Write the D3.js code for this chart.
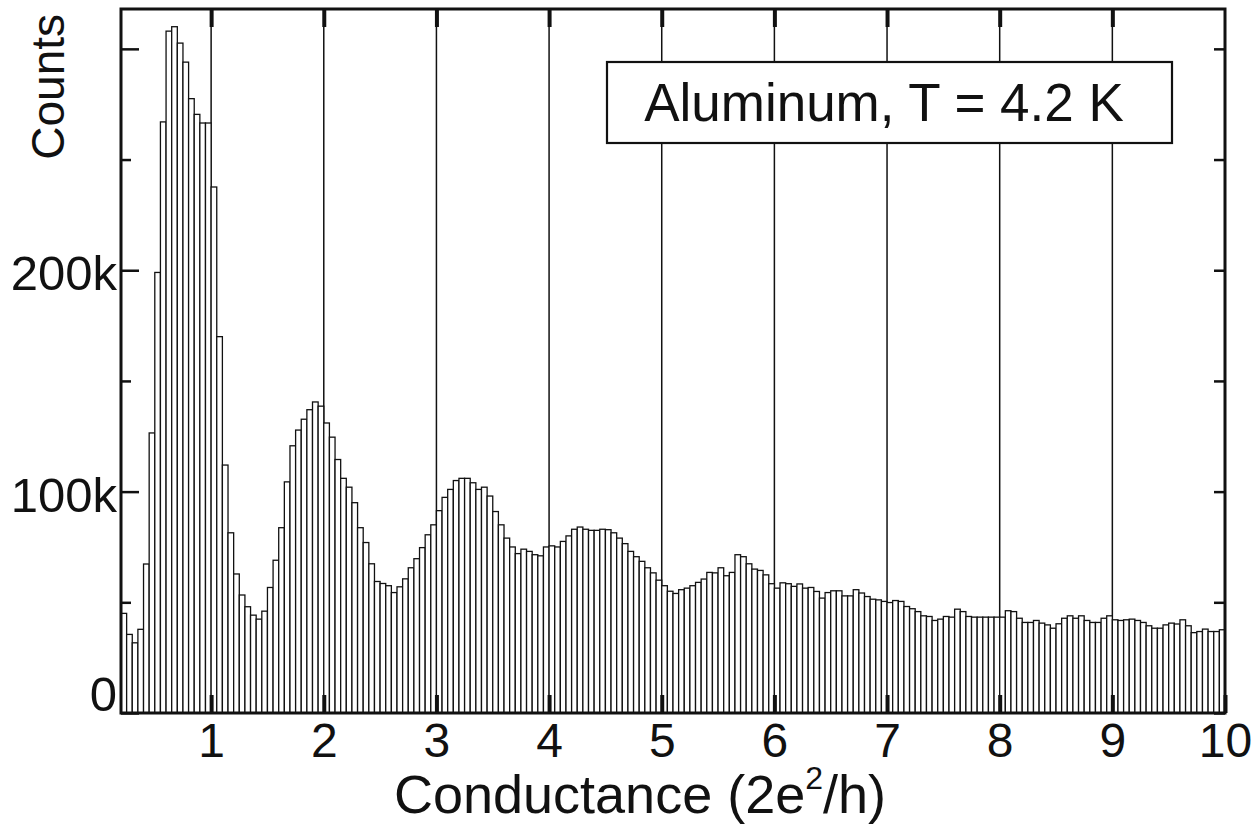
<!DOCTYPE html>
<html>
<head>
<meta charset="utf-8">
<script src="https://cdn.jsdelivr.net/npm/d3@7"></script>
<style>
  html, body { margin: 0; padding: 0; background: #fff; }
  svg { display: block; }
  text { font-family: "Liberation Sans", Arial, sans-serif; fill: #111; }
</style>
</head>
<body>
<svg id="chart" width="1258" height="837"></svg>
<script>
// Histogram bins: width 0.05 (2e^2/h), first bin starts at 0.20
const binStart = 0.20;
const binWidth = 0.05;
// Counts in thousands, grouped by conductance interval
const counts0 = [45, 35.5, 31.7, 37.8, 67.3, 126.5, 199, 267, 308, 310, 302.6, 294, 277.5, 270.4, 266.5, 266.5]; // 0.20–0.95
const counts1 = [237.6, 170, 112, 81.4, 62.8, 53.3, 48, 44.2, 42.4, 46, 56.7, 69, 83.7, 104.4, 120.7, 127.8, 132.7, 137, 140.5, 138.6];
const counts2 = [131, 124.6, 114.5, 106, 102, 95, 83.7, 77, 67.4, 59.4, 58.5, 57.5, 54.4, 57, 60.6, 65.6, 69.7, 74.7, 80.5, 85];
const counts3 = [91.4, 97.4, 101, 105, 106, 106, 104, 101, 102, 98, 91, 85, 79, 75, 72, 74, 73, 71.5, 71, 75];
const counts4 = [75.5, 75, 77.5, 80, 83, 84, 83, 82.5, 82.5, 83, 82.8, 81.4, 79, 76.5, 73, 70.6, 68.5, 65.6, 63.3, 60];
const counts5 = [57.5, 55, 54, 55.7, 56.4, 57.5, 59, 60.5, 63.5, 63.3, 65.6, 62, 63.5, 71.5, 70.6, 67.4, 65, 64.4, 62.4, 58.4];
const counts6 = [56.4, 58.8, 58.4, 57.2, 58.3, 56.4, 56.7, 54.9, 51.9, 54.4, 55.2, 55.2, 52.9, 52.9, 55.7, 54.2, 52.6, 51.4, 51.1, 50.4];
const counts7 = [49.9, 50.8, 50.4, 48.1, 47.1, 45.8, 43.9, 43.6, 41.8, 42.4, 43.6, 43.3, 46.9, 45.8, 43.6, 43.3, 43.3, 43.3, 43.3, 43.3];
const counts8 = [43.3, 46.2, 45.8, 42.8, 40.9, 40.9, 41.8, 40.6, 39.8, 38.3, 40.3, 42.8, 43.9, 42.8, 43.9, 41.8, 40.9, 40.9, 42.8, 43.9];
const counts9 = [42.1, 41.8, 42.1, 42.4, 41.8, 40.9, 39.4, 38.3, 38.3, 39.8, 40.6, 40.2, 42.1, 39.4, 36.3, 36.8, 37.9, 36.8, 36.8, 37.6];

const xTicks = [1, 2, 3, 4, 5, 6, 7, 8, 9, 10];
const gridValues = [1, 2, 3, 4, 5, 6, 7, 8, 9];
const yMajorTicks = [0, 100000, 200000, 300000];
const yMinorTicks = [50000, 150000, 250000];
const yTickLabels = { 0: "0", 100000: "100k", 200000: "200k" };
const xTitle = "Conductance (2e";
const yTitle = "Counts";
const legendText = "Aluminum, T = 4.2 K";

const allCounts = [].concat(counts0, counts1, counts2, counts3, counts4, counts5, counts6, counts7, counts8, counts9);
const bins = allCounts.map((c, i) => ({ x0: +(binStart + i * binWidth).toFixed(2), x1: +(binStart + (i + 1) * binWidth).toFixed(2), v: c * 1000 }));

const svg = d3.select("#chart");
const L = 121, R = 1225, T = 9, B = 713;

const x = d3.scaleLinear().domain([0.2, 10]).range([L, R]);
const y = d3.scaleLinear().domain([0, 318000]).range([B, T]);

svg.append("defs").append("clipPath").attr("id", "plotclip")
  .append("rect").attr("x", L).attr("y", T).attr("width", R - L).attr("height", B - T);

const plot = svg.append("g").attr("clip-path", "url(#plotclip)");

// gridlines
plot.selectAll("line.grid").data(gridValues).enter().append("line")
  .attr("class", "grid")
  .attr("x1", d => x(d)).attr("x2", d => x(d))
  .attr("y1", y.range()[1]).attr("y2", y.range()[0])
  .attr("stroke", "#111").attr("stroke-width", 1.5);

// bars
plot.selectAll("rect.bar").data(bins).enter().append("rect")
  .attr("class", "bar")
  .attr("x", d => x(d.x0))
  .attr("width", d => x(d.x1) - x(d.x0))
  .attr("y", d => y(d.v))
  .attr("height", d => y(0) - y(d.v))
  .attr("fill", "#fff")
  .attr("stroke", "#111")
  .attr("stroke-width", 1.3);

// bottom axis (inward ticks + labels)
const xAxis = d3.axisBottom(x).tickValues(xTicks).tickSize(-18).tickPadding(39).tickFormat(d3.format("d"));
const gx = svg.append("g").attr("transform", `translate(0,${B})`).call(xAxis);
gx.select(".domain").remove();
gx.selectAll(".tick line").attr("stroke", "#111").attr("stroke-width", 4);
gx.selectAll(".tick text").attr("font-size", 48).attr("dy", "0.1em").style("font-family", "Liberation Sans, Arial, sans-serif");

// top axis ticks
const gt = svg.append("g").attr("transform", `translate(0,${T})`)
  .call(d3.axisTop(x).tickValues(gridValues).tickSize(-18).tickFormat(""));
gt.select(".domain").remove();
gt.selectAll(".tick line").attr("stroke", "#111").attr("stroke-width", 4);

// left axis
const gyMaj = svg.append("g").attr("transform", `translate(${L},0)`)
  .call(d3.axisLeft(y).tickValues(yMajorTicks).tickSize(-18).tickPadding(6).tickFormat(d => yTickLabels[d] || ""));
gyMaj.select(".domain").remove();
gyMaj.selectAll(".tick line").attr("stroke", "#111").attr("stroke-width", 2.5);
gyMaj.selectAll(".tick text").attr("font-size", 49).attr("x", -4).attr("dy", d => d === 0 ? "-0.05em" : "0.4em")
  .style("font-family", "Liberation Sans, Arial, sans-serif");
const gyMin = svg.append("g").attr("transform", `translate(${L},0)`)
  .call(d3.axisLeft(y).tickValues(yMinorTicks).tickSize(-10).tickFormat(""));
gyMin.select(".domain").remove();
gyMin.selectAll(".tick line").attr("stroke", "#111").attr("stroke-width", 2.5);

// right axis
const gr = svg.append("g").attr("transform", `translate(${R},0)`)
  .call(d3.axisRight(y).tickValues(yMajorTicks.concat(yMinorTicks)).tickSize(-11).tickFormat(""));
gr.select(".domain").remove();
gr.selectAll(".tick line").attr("stroke", "#111").attr("stroke-width", 2.5);

// frame
svg.append("rect").attr("x", L).attr("y", T).attr("width", R - L).attr("height", B - T)
  .attr("fill", "none").attr("stroke", "#111").attr("stroke-width", 3);

// legend box
const lg = svg.append("g");
lg.append("rect").attr("x", 607).attr("y", 62).attr("width", 565).attr("height", 81)
  .attr("fill", "#fff").attr("stroke", "#111").attr("stroke-width", 2.2);
lg.append("text").attr("x", 884).attr("y", 121).attr("text-anchor", "middle")
  .attr("font-size", 53).text(legendText);

// x title with superscript
const xt = svg.append("text").attr("x", 640).attr("y", 813).attr("text-anchor", "middle").attr("font-size", 54);
xt.append("tspan").text(xTitle);
xt.append("tspan").attr("font-size", 32).attr("dy", -24).text("2");
xt.append("tspan").attr("dy", 24).text("/h)");

// y title
svg.append("text").attr("transform", "translate(64,14) rotate(-90)")
  .attr("text-anchor", "end").attr("font-size", 46).text(yTitle);
</script>
</body>
</html>
